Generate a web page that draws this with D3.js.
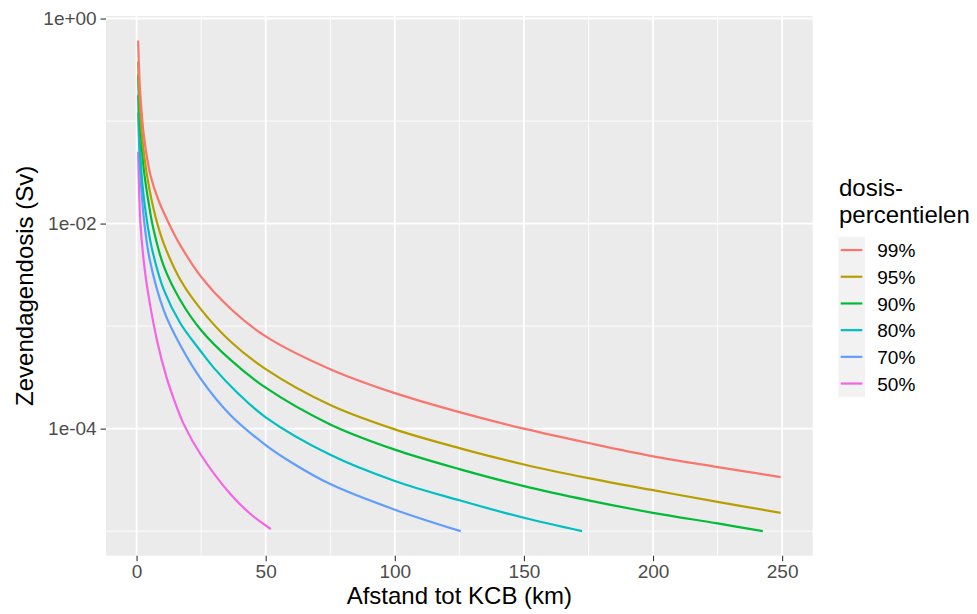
<!DOCTYPE html>
<html>
<head>
<meta charset="utf-8">
<script src="https://cdn.jsdelivr.net/npm/d3@7/dist/d3.min.js"></script>
<style>
  html, body { margin: 0; padding: 0; background: #ffffff; }
  svg { display: block; font-family: "Liberation Sans", Arial, Helvetica, sans-serif; }
</style>
</head>
<body>
<svg id="chart" width="977" height="614"></svg>
<script>
// ---------- data (distance km, dose Sv) ----------
const seriesNames = ["99%", "95%", "90%", "80%", "70%", "50%"];
const seriesColors = ["#F8766D", "#B79F00", "#00BA38", "#00BFC4", "#619CFF", "#F564E3"];

const p99 = [[0.6,0.610],[1.0,0.302],[1.5,0.172],[3,0.0661],[5.4,0.0295],[8.6,0.0166],[13.5,0.00891],[17,0.00610],[25,0.00302],[36,0.00151],[50,0.000794],[75,0.000380],[100,0.000222],[125,0.000145],[150,0.000100],[175,7.24e-5],[200,5.37e-5],[225,4.22e-5],[249.4,3.37e-5]];
const p95 = [[0.6,0.378],[1.0,0.191],[1.5,0.112],[2.5,0.0575],[3.5,0.0363],[5.4,0.0191],[7.8,0.0105],[10.6,0.00631],[17,0.00282],[25,0.00145],[36.4,0.000708],[50,0.000380],[75,0.000170],[100,9.84e-5],[125,6.46e-5],[150,4.47e-5],[175,3.29e-5],[200,2.51e-5],[225,1.93e-5],[249.4,1.51e-5]];
const p90 = [[0.6,0.282],[1.0,0.141],[1.5,0.0851],[2.84,0.0331],[4.7,0.0158],[6.5,0.00891],[10.6,0.00380],[17,0.00178],[25,0.000912],[36.4,0.000468],[50,0.000251],[75,0.000110],[100,6.24e-5],[125,4.03e-5],[150,2.75e-5],[175,2.0e-5],[200,1.51e-5],[225,1.19e-5],[242.5,1.0e-5]];
const p80 = [[0.6,0.179],[1.0,0.0794],[2.2,0.0251],[3.7,0.0120],[6,0.00562],[10.6,0.00224],[17,0.00106],[25,0.000562],[30,0.000389],[39,0.000224],[50,0.000129],[75,5.56e-5],[100,3.09e-5],[125,2.0e-5],[150,1.35e-5],[172.5,1.0e-5]];
const p70 = [[0.6,0.121],[1.0,0.0562],[1.6,0.0269],[2.2,0.0166],[2.9,0.0107],[5,0.00457],[10.6,0.00141],[17,0.000646],[25,0.000302],[36.4,0.000135],[50,6.92e-5],[60,4.68e-5],[75,2.88e-5],[100,1.62e-5],[125.5,1.0e-5]];
const p50 = [[0.6,0.0501],[1.0,0.0200],[1.5,0.0100],[2.5,0.00501],[4.1,0.00240],[8,0.000708],[11.6,0.000316],[14.4,0.000195],[18.3,0.000110],[25,5.50e-5],[36.4,2.29e-5],[44,1.48e-5],[52,1.05e-5]];

const xTicks = [0, 50, 100, 150, 200, 250];
const xMinorTicks = [25, 75, 125, 175, 225];
const yTicks = [1, 1e-2, 1e-4];
const yTickLabels = ["1e+00", "1e-02", "1e-04"];
const yMinorTicks = [1e-1, 1e-3, 1e-5];

const xTitle = "Afstand tot KCB (km)";
const yTitle = "Zevendagendosis (Sv)";
const legendTitle = ["dosis-", "percentielen"];

// ---------- build ----------
const allSeries = [p99, p95, p90, p80, p70, p50].map((pts, i) => ({
  name: seriesNames[i], color: seriesColors[i], points: pts
}));

const svg = d3.select("#chart");
const panel = { left: 106, top: 16, right: 812.7, bottom: 555.7 };

const allPts = allSeries.flatMap(s => s.points);
const xExt = d3.extent(allPts, d => d[0]);
const xPad = (xExt[1] - xExt[0]) * 0.05;
const x = d3.scaleLinear().domain([xExt[0] - xPad, xExt[1] + xPad]).range([panel.left, panel.right]);

const lExt = d3.extent(allPts, d => Math.log10(d[1]));
const lPad = (lExt[1] - lExt[0]) * 0.05;
const y = d3.scaleLog().domain([Math.pow(10, lExt[0] - lPad), Math.pow(10, lExt[1] + lPad)]).range([panel.bottom, panel.top]);

// panel background
svg.append("rect").attr("x", panel.left).attr("y", panel.top)
  .attr("width", panel.right - panel.left).attr("height", panel.bottom - panel.top)
  .attr("fill", "#EBEBEB");

const grid = svg.append("g");
grid.selectAll(".xmin").data(xMinorTicks).join("line")
  .attr("x1", d => x(d)).attr("x2", d => x(d)).attr("y1", panel.top).attr("y2", panel.bottom)
  .attr("stroke", "#ffffff").attr("stroke-width", 0.9);
grid.selectAll(".ymin").data(yMinorTicks).join("line")
  .attr("y1", d => y(d)).attr("y2", d => y(d)).attr("x1", panel.left).attr("x2", panel.right)
  .attr("stroke", "#ffffff").attr("stroke-width", 0.9);
grid.selectAll(".xmaj").data(xTicks).join("line")
  .attr("x1", d => x(d)).attr("x2", d => x(d)).attr("y1", panel.top).attr("y2", panel.bottom)
  .attr("stroke", "#ffffff").attr("stroke-width", 1.8);
grid.selectAll(".ymaj").data(yTicks).join("line")
  .attr("y1", d => y(d)).attr("y2", d => y(d)).attr("x1", panel.left).attr("x2", panel.right)
  .attr("stroke", "#ffffff").attr("stroke-width", 1.8);

svg.append("clipPath").attr("id", "clip").append("rect")
  .attr("x", panel.left).attr("y", panel.top)
  .attr("width", panel.right - panel.left).attr("height", panel.bottom - panel.top);

const line = d3.line().x(d => x(d[0])).y(d => y(d[1])).curve(d3.curveCatmullRom.alpha(0.5));
svg.append("g").attr("clip-path", "url(#clip)")
  .selectAll("path").data(allSeries.slice().reverse()).join("path")
  .attr("d", d => line(d.points))
  .attr("fill", "none").attr("stroke", d => d.color)
  .attr("stroke-width", 2.2).attr("stroke-linejoin", "round").attr("stroke-linecap", "butt");

// axes
const xAxis = d3.axisBottom(x).tickValues(xTicks).tickSize(5.5).tickPadding(3.8).tickFormat(d3.format("d"));
const gx = svg.append("g").attr("transform", `translate(0,${panel.bottom})`).call(xAxis);
gx.select(".domain").remove();
gx.selectAll("line").attr("stroke", "#333333").attr("stroke-width", 1.1);
gx.selectAll("text").attr("fill", "#4D4D4D").style("font-size", "19px")
  .style("font-family", "'Liberation Sans', Arial, sans-serif");

const yAxis = d3.axisLeft(y).tickValues(yTicks).tickSize(5.5).tickPadding(3.8)
  .tickFormat((d, i) => yTickLabels[i]);
const gy = svg.append("g").attr("transform", `translate(${panel.left},0)`).call(yAxis);
gy.select(".domain").remove();
gy.selectAll("line").attr("stroke", "#333333").attr("stroke-width", 1.1);
gy.selectAll("text").attr("fill", "#4D4D4D").style("font-size", "19px")
  .style("font-family", "'Liberation Sans', Arial, sans-serif");

// titles
svg.append("text").attr("x", (panel.left + panel.right) / 2).attr("y", 604)
  .attr("text-anchor", "middle").attr("fill", "#000").style("font-size", "24px")
  .text(xTitle);
svg.append("text")
  .attr("transform", `translate(33,${(panel.top + panel.bottom) / 2}) rotate(-90)`)
  .attr("text-anchor", "middle").attr("fill", "#000").style("font-size", "24px")
  .text(yTitle);

// legend
const lg = svg.append("g");
lg.selectAll(".lt").data(legendTitle).join("text")
  .attr("x", 839).attr("y", (d, i) => 195.7 + i * 27)
  .attr("fill", "#000").style("font-size", "24px").text(d => d);
const keyH = 26.7, keyW = 26.7, keyX = 838.3, keyY = 236.7;
lg.append("rect").attr("x", keyX).attr("y", keyY).attr("width", keyW)
  .attr("height", keyH * allSeries.length).attr("fill", "#F2F2F2");
const items = lg.selectAll(".item").data(allSeries).join("g")
  .attr("transform", (d, i) => `translate(0,${keyY + i * keyH + keyH / 2})`);
items.append("line").attr("x1", keyX + 2.4).attr("x2", keyX + 24)
  .attr("y1", 0).attr("y2", 0).attr("stroke", d => d.color).attr("stroke-width", 2.2);
items.append("text").attr("x", 877.3).attr("y", 7.2)
  .attr("fill", "#000").style("font-size", "19px").text(d => d.name);
</script>
</body>
</html>
